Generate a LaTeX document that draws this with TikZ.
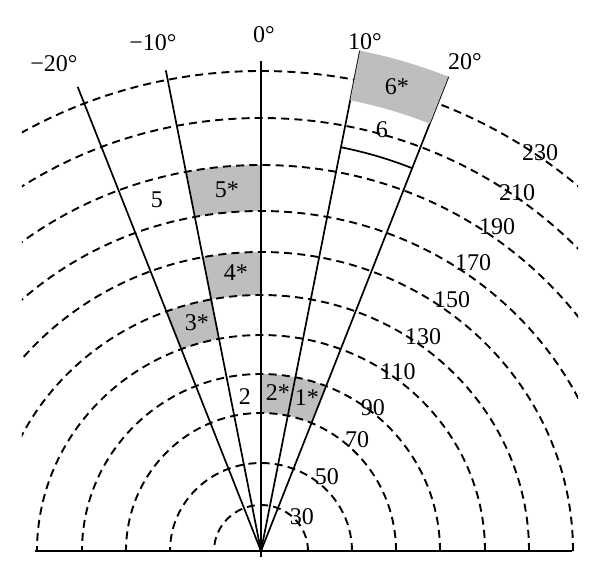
\documentclass[tikz,border=0pt]{standalone}
\usepackage{fontspec}
\setmainfont{Liberation Serif}
\usepackage{tikz}

\definecolor{cellgray}{RGB}{190,190,190}
\tikzset{
  rangearc/.style={dash pattern=on 4pt off 2.6pt, line width=0.95pt},
  beam/.style={line width=0.85pt},
  lbl/.style={font=\fontsize{12}{14}\selectfont, inner sep=0pt},
}
% shaded cell: wedge between two polar angles, ring between two ellipses
\newcommand\graycell[6]{%
  \begin{scope}
    \clip (0,0) -- (#1:700) -- (#2:700) -- cycle;
    \fill[cellgray, even odd rule] (0,0) ellipse[x radius=#3, y radius=#4]
                                   (0,0) ellipse[x radius=#5, y radius=#6];
  \end{scope}}

\begin{document}
\begin{tikzpicture}[x=0.5pt,y=0.5pt]
  \useasboundingbox (-261,-24) rectangle (339,551);
  \coordinate (O) at (0,0);

  \graycell{68.45}{90}{135}{138}{179}{177}     % 1*, 2*
  \graycell{101.2}{111.55}{224}{216}{268}{256} % 3*
  \graycell{90}{101.2}{268}{256}{312}{299}     % 4*
  \graycell{90}{101.2}{355}{340}{399}{386}     % 5*

  \begin{scope}
    \clip (-239,0) rectangle (317,560);
    \foreach \rx/\ry in {47/46, 91/88, 135/138, 179/177, 224/216, 268/256,
                         312/299, 355/340, 399/386, 443/433, 488/480}{
      \draw[rangearc] (\rx,0) arc[start angle=0, end angle=180, x radius=\rx, y radius=\ry];
    }
  \end{scope}

  \draw[beam] (-226,0) -- (311,0); % base line
  \foreach \nm/\ang/\len in {m20/111.55/499, m10/101.2/490, z/90/490, p10/78.8/510, p20/68.45/510}{
    \coordinate (tip\nm) at (\ang:\len);
    \draw[beam] (O) -- (tip\nm);
  }
  \draw[beam] (0,-6) -- (O);
  \draw[beam] (68.45:411.6) arc[start angle=68.45, end angle=78.8, radius=411.6];

  % cell 6* lies on top
  \fill[cellgray] (68.45:459.5) arc[start angle=68.45, end angle=78.8, radius=459.5]
    -- (78.8:510) arc[start angle=78.8, end angle=68.45, radius=510] -- cycle;

  \node[lbl] (am20) at (-207,487) {−20°};
  \node[lbl] (am10) at (-108,508) {−10°};
  \node[lbl] (az)   at (3,516)    {0°};
  \node[lbl] (ap10) at (104,509)  {10°};
  \node[lbl] (ap20) at (204,489)  {20°};

  \node[lbl] (c6s) at (136,464) {6*};
  \node[lbl] (c6)  at (121,421) {6};
  \node[lbl] (c5s) at (-34,361) {5*};
  \node[lbl] (c5)  at (-104,351) {5};
  \node[lbl] (c4s) at (-25,278) {4*};
  \node[lbl] (c3s) at (-64,228) {3*};
  \node[lbl] (c2)  at (-16,154) {2};
  \node[lbl] (c2s) at (17,158)  {2*};
  \node[lbl] (c1s) at (46,153)  {1*};

  \foreach \v/\lx/\ly in {30/41/34, 50/66/74, 70/96/111, 90/112/143, 110/137/179,
                          130/162/214, 150/191/251, 170/212/288, 190/236/324,
                          210/256/358, 230/279/398}{
    \node[lbl] (r\v) at (\lx,\ly) {\v};
  }
\end{tikzpicture}
\end{document}
